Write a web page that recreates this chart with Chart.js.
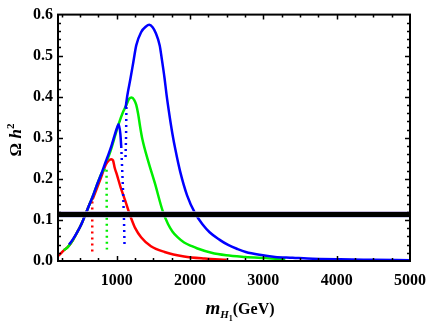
<!DOCTYPE html>
<html>
<head>
<meta charset="utf-8">
<script src="https://cdn.jsdelivr.net/npm/chart.js@4"></script>
<style>
  html, body { margin: 0; padding: 0; background: #fff; }
  #wrap { width: 436px; height: 327px; }
</style>
</head>
<body>
<div id="wrap"><canvas id="relic"></canvas></div>
<script>
// x: m_H1 in GeV, y: relic density
const xTicks = [1000, 2000, 3000, 4000, 5000];
const yTicks = [0, 0.1, 0.2, 0.3, 0.4, 0.5, 0.6];
const planck = 0.1135;

const redMass = [200, 230, 280, 333, 400, 453, 520, 573, 627, 660];
const redOmega = [0.012, 0.017, 0.026, 0.034, 0.05, 0.067, 0.09, 0.113, 0.137, 0.148];
const redDropMass = [667, 667];
const redDropOmega = [0.145, 0.017];
const red2Mass = [672, 720, 790, 853, 893, 925, 950, 973, 1000, 1053, 1120, 1175, 1200, 1253, 1333, 1467, 1653, 1920, 2200, 2500];
const red2Omega = [0.15, 0.172, 0.205, 0.235, 0.245, 0.248, 0.245, 0.227, 0.212, 0.18, 0.145, 0.115, 0.103, 0.08, 0.058, 0.036, 0.022, 0.011, 0.006, 0.003];

const greenMass = [280, 333, 400, 453, 520, 573, 627, 680, 720, 790, 840];
const greenOmega = [0.026, 0.034, 0.05, 0.067, 0.09, 0.113, 0.137, 0.16, 0.18, 0.212, 0.225];
const greenDropMass = [862, 867];
const greenDropOmega = [0.222, 0.028];
const green2Mass = [870, 920, 970, 1030, 1080, 1133, 1170, 1204, 1240, 1267, 1293, 1320, 1350, 1427, 1520, 1627, 1700, 1760, 1830, 1920, 2027, 2093, 2293, 2493, 2750, 3027, 3300];
const green2Omega = [0.245, 0.27, 0.3, 0.335, 0.36, 0.38, 0.395, 0.398, 0.392, 0.38, 0.358, 0.327, 0.297, 0.245, 0.19, 0.122, 0.09, 0.072, 0.058, 0.045, 0.036, 0.031, 0.02, 0.014, 0.01, 0.007, 0.004];

const blueMass = [350, 400, 453, 520, 573, 627, 680, 720, 790, 853, 893, 933, 970, 1000, 1027, 1050, 1062];
const blueOmega = [0.04, 0.052, 0.067, 0.09, 0.113, 0.137, 0.16, 0.18, 0.212, 0.243, 0.262, 0.283, 0.305, 0.322, 0.333, 0.31, 0.28];
const blueDropMass = [1062, 1085, 1100, 1107];
const blueDropOmega = [0.28, 0.18, 0.1, 0.04];
const blueDrop2Mass = [1133, 1128, 1120];
const blueDrop2Omega = [0.375, 0.3, 0.25];
const blue2Mass = [1120, 1147, 1187, 1227, 1267, 1333, 1400, 1445, 1490, 1533, 1587, 1613, 1653, 1680, 1720, 1760, 1800, 1867, 1960, 2067, 2167, 2267, 2400, 2520, 2650, 2760, 2950, 3160, 3400, 3600, 4050, 4500, 5000];
const blue2Omega = [0.371, 0.405, 0.443, 0.484, 0.525, 0.557, 0.571, 0.575, 0.569, 0.555, 0.525, 0.495, 0.445, 0.405, 0.355, 0.31, 0.272, 0.217, 0.16, 0.117, 0.09, 0.07, 0.052, 0.039, 0.029, 0.022, 0.015, 0.01, 0.008, 0.006, 0.004, 0.003, 0.002];

function pts(xs, ys) {
    return xs.map((x, i) => ({ x: x, y: ys[i] }));
}

function curve(xs, ys, color, order) {
    return {
        data: pts(xs, ys),
        borderColor: color,
        borderWidth: 2.5,
        pointRadius: 0,
        cubicInterpolationMode: "monotone",
        order: order
    };
}

function dotted(xs, ys, color, order) {
    return {
        data: pts(xs, ys),
        borderColor: color,
        borderWidth: 2.5,
        borderDash: [2, 4],
        pointRadius: 0,
        tension: 0,
        order: order
    };
}

function band(value, color, width, order) {
    return {
        data: pts([200, 5000], [value, value]),
        borderColor: color,
        borderWidth: width,
        pointRadius: 0,
        order: order
    };
}

const serif = "'Liberation Serif', 'DejaVu Serif', serif";

// frame with inward ticks and the two axis titles
const framePlugin = {
    id: "frame",
    afterDraw(chart) {
        const ctx = chart.ctx;
        const a = chart.chartArea;
        const xs = chart.scales.x, ys = chart.scales.y;
        ctx.save();
        ctx.strokeStyle = "#000";
        ctx.lineWidth = 2;
        ctx.strokeRect(a.left, a.top, a.right - a.left, a.bottom - a.top);
        ctx.lineWidth = 1.5;
        ctx.beginPath();
        for (let v = 250; v < 5000; v += 250) {
            const px = Math.round(xs.getPixelForValue(v)) + 0.5;
            const len = v % 1000 === 0 ? 5 : 3;
            ctx.moveTo(px, a.bottom); ctx.lineTo(px, a.bottom - len);
            ctx.moveTo(px, a.top); ctx.lineTo(px, a.top + len);
        }
        for (let k = 1; k < 30; k++) {
            const v = k * 0.02;
            const py = Math.round(ys.getPixelForValue(v)) + 0.5;
            const len = k % 5 === 0 ? 5 : 3;
            ctx.moveTo(a.left, py); ctx.lineTo(a.left + len, py);
            ctx.moveTo(a.right, py); ctx.lineTo(a.right - len, py);
        }
        ctx.stroke();

        // x title: m_{H_1}(GeV)
        ctx.fillStyle = "#000";
        ctx.textBaseline = "alphabetic";
        const parts = [
            { t: "m", f: "italic bold 19px " + serif, dy: 0 },
            { t: "H", f: "italic bold 11px " + serif, dy: 4 },
            { t: "1", f: "bold 8px " + serif, dy: 7 },
            { t: "(GeV)", f: "bold 16px " + serif, dy: 0 }
        ];
        let total = 0;
        parts.forEach(p => { ctx.font = p.f; p.w = ctx.measureText(p.t).width; total += p.w; });
        let cx = 240 - total / 2;
        parts.forEach(p => { ctx.font = p.f; ctx.fillText(p.t, cx, 314 + p.dy); cx += p.w; });

        // y title: Ω h^2
        ctx.translate(21, 140);
        ctx.rotate(-Math.PI / 2);
        const yp = [
            { t: "Ω ", f: "bold 17px " + serif, dy: 0 },
            { t: "h", f: "italic bold 17px " + serif, dy: 0 },
            { t: "2", f: "bold 11px " + serif, dy: -7 }
        ];
        total = 0;
        yp.forEach(p => { ctx.font = p.f; p.w = ctx.measureText(p.t).width; total += p.w; });
        cx = -total / 2;
        yp.forEach(p => { ctx.font = p.f; ctx.fillText(p.t, cx, p.dy); cx += p.w; });
        ctx.restore();
    }
};

new Chart(document.getElementById("relic").getContext("2d"), {
    type: "line",
    data: {
        datasets: [
            band(planck, "#000", 5, 0),
            band(planck + 0.0065, "#b8a8d8", 1, 1),
            band(planck - 0.0065, "#a8a8e0", 1, 1),
            curve(blueMass, blueOmega, "#0000ff", 2),
            curve(blue2Mass, blue2Omega, "#0000ff", 2),
            dotted(blueDropMass, blueDropOmega, "#0000ff", 2),
            dotted(blueDrop2Mass, blueDrop2Omega, "#0000ff", 2),
            curve(greenMass, greenOmega, "#00ee00", 3),
            curve(green2Mass, green2Omega, "#00ee00", 3),
            dotted(greenDropMass, greenDropOmega, "#00ee00", 3),
            curve(redMass, redOmega, "#ff0000", 4),
            curve(red2Mass, red2Omega, "#ff0000", 4),
            dotted(redDropMass, redDropOmega, "#ff0000", 4)
        ]
    },
    options: {
        responsive: true,
        maintainAspectRatio: false,
        animation: false,
        events: [],
        layout: { padding: { top: 12, right: 18, left: 0, bottom: 0 } },
        plugins: { legend: { display: false }, tooltip: { enabled: false } },
        scales: {
            x: {
                type: "linear",
                min: 200,
                max: 5000,
                afterBuildTicks: s => { s.ticks = xTicks.map(v => ({ value: v })); },
                afterFit: s => { s.height = 66; },
                grid: { display: false, drawTicks: false },
                border: { display: false },
                ticks: {
                    padding: 10,
                    maxRotation: 0,
                    color: "#000",
                    font: { family: serif, weight: "bold", size: 16 },
                    callback: v => String(v)
                }
            },
            y: {
                min: 0,
                max: 0.6,
                afterBuildTicks: s => { s.ticks = yTicks.map(v => ({ value: v })); },
                afterFit: s => { s.width = 58; },
                grid: { display: false, drawTicks: false },
                border: { display: false },
                ticks: {
                    padding: 5,
                    color: "#000",
                    font: { family: serif, weight: "bold", size: 16 },
                    callback: v => v.toFixed(1)
                }
            }
        }
    },
    plugins: [framePlugin]
});
</script>
</body>
</html>
